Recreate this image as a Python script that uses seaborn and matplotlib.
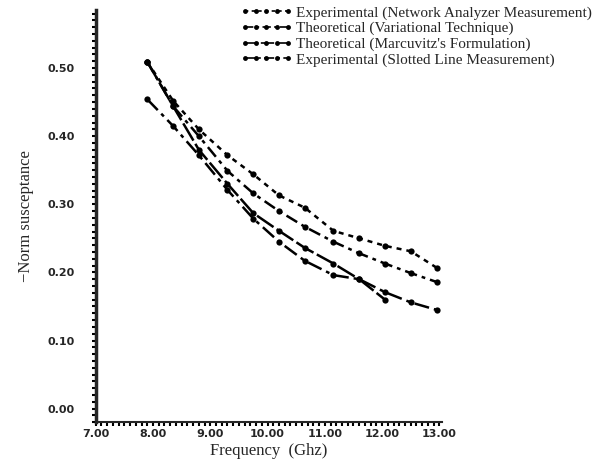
import matplotlib
matplotlib.use("Agg")
import matplotlib.pyplot as plt
from matplotlib.ticker import MultipleLocator, FixedLocator
import pandas as pd
import seaborn as sns

# frequencies (GHz) of the measured/computed points
freq = [7.90, 8.35, 8.80, 9.30, 9.75, 10.20, 10.65, 11.15, 11.60, 12.05, 12.50, 12.95]

# normalized susceptance
net_analyzer = [0.509, 0.452, 0.410, 0.372, 0.344, 0.313, 0.295, 0.261, 0.250, 0.239, 0.231, 0.207]
variational = [0.509, 0.444, 0.400, 0.349, 0.316, 0.290, 0.267, 0.245, 0.228, 0.213, 0.199, 0.186]
marcuvitz = [0.509, 0.444, 0.380, 0.330, 0.287, 0.261, 0.236, 0.213, 0.190, 0.160]
slotted = [0.454, 0.415, 0.372, 0.321, 0.279, 0.245, 0.217, 0.196, 0.190, 0.171, 0.156, 0.145]

labels = ["Experimental (Network Analyzer Measurement)",
          "Theoretical (Variational Technique)",
          "Theoretical (Marcuvitz's Formulation)",
          "Experimental (Slotted Line Measurement)"]

x_ticks = [7, 8, 9, 10, 11, 12, 13]
y_ticks = [0.0, 0.1, 0.2, 0.3, 0.4, 0.5]

sns.set_style("ticks")
plt.rcParams['font.family'] = ['Liberation Serif', 'DejaVu Serif']

fig = plt.figure(figsize=(6.1, 4.59), dpi=100)
ax = fig.add_axes([0.157, 0.08, 0.568, 0.898])

series = [net_analyzer, variational, marcuvitz, slotted]
styles = [(0, (2, 2)), (0, (5, 2, 1.5, 2)), (0, (8, 1.5)), (0, (6, 2, 1.5, 2))]
for vals, lab, ls in zip(series, labels, styles):
    df = pd.DataFrame({"freq": freq[:len(vals)], "b": vals})
    sns.lineplot(data=df, x="freq", y="b", ax=ax, color="black", linewidth=1.8,
                 linestyle=ls, marker="o", markersize=4.5, markeredgewidth=0,
                 label=lab)

ax.set_xlim(7.0, 13.05)
ax.set_ylim(-0.02, 0.585)
ax.xaxis.set_major_locator(FixedLocator(x_ticks))
ax.yaxis.set_major_locator(FixedLocator(y_ticks))
ax.xaxis.set_minor_locator(MultipleLocator(0.1))
ax.yaxis.set_minor_locator(MultipleLocator(0.01))
ax.set_xticklabels(["%.2f" % t for t in x_ticks], fontsize=8, fontweight="bold",
                   family="DejaVu Sans")
ax.set_yticklabels(["%.2f" % t for t in y_ticks], fontsize=8, fontweight="bold",
                   family="DejaVu Sans")
ax.tick_params(axis="y", which="major", length=3, width=1.5, color="black", pad=12)
ax.tick_params(axis="x", which="major", length=3, width=1.5, color="black", pad=2)
ax.tick_params(axis="both", which="minor", length=3, width=1.5, color="black")

for side in ["top", "right"]:
    ax.spines[side].set_visible(False)
ax.spines["left"].set_linewidth(2.5)
ax.spines["bottom"].set_linewidth(1.5)

ax.set_xlabel("Frequency  (Ghz)", fontsize=12, labelpad=3)
ax.set_ylabel("\u2212Norm susceptance", fontsize=12, labelpad=10)

leg = ax.legend(loc="upper left", bbox_to_anchor=(0.40, 1.025), frameon=False,
                fontsize=11, handlelength=3.4, handletextpad=0.25, labelspacing=0.12,
                numpoints=5, borderaxespad=0)
for h in leg.legend_handles:
    h.set_markersize(3.5)
    h.set_linewidth(1.2)

fig.savefig("out.png", dpi=100)
